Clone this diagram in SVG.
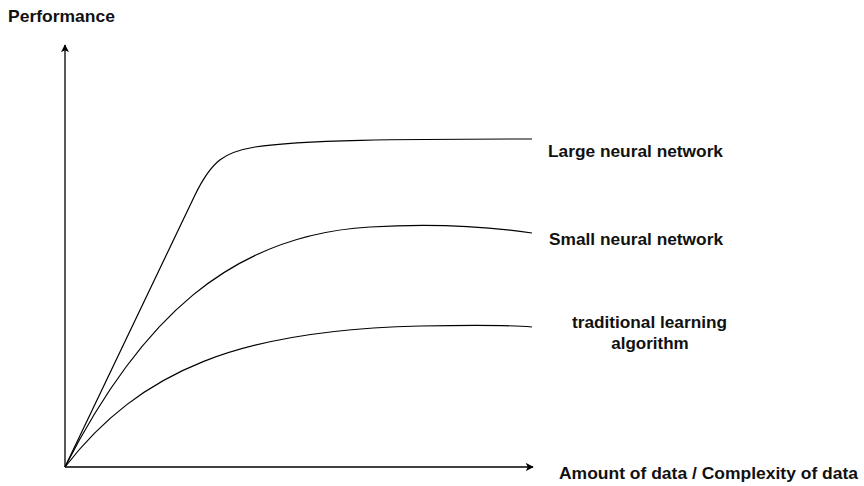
<svg xmlns="http://www.w3.org/2000/svg" width="864" height="486" viewBox="0 0 864 486">
  <style>
    .axis { stroke: #000; stroke-width: 1.3; fill: none; }
    .curve { stroke: #000; stroke-width: 1.2; fill: none; }
    .lbl { font-family: "Liberation Sans", Arial, sans-serif; font-size: 17px; font-weight: bold; fill: #111; }
  </style>
  <defs>
    <marker id="arrow" viewBox="0 0 10 10" refX="9" refY="5" markerWidth="8" markerHeight="8" markerUnits="userSpaceOnUse" orient="auto">
      <path d="M0,0 L10,5 L0,10 L2.5,5 Z" fill="#000"/>
    </marker>
  </defs>
  <rect width="864" height="486" fill="#fff"/>

  <g id="axes">
    <line class="axis" x1="65" y1="467" x2="65" y2="45" marker-end="url(#arrow)"/>
    <line class="axis" x1="65" y1="467" x2="533" y2="467" marker-end="url(#arrow)"/>
  </g>

  <g id="connectors">
    <!-- large neural network -->
    <path class="curve" d="M65,467 L195,195 C212,160 225,152 255,147 C300,140 400,139 532,139"/>
    <!-- small neural network -->
    <path class="curve" d="M65,467 C140,320 230,235 370,227 C420,224 470,224 532,233"/>
    <!-- traditional learning algorithm -->
    <path class="curve" d="M65,467 C140,370 240,330 420,326 C470,325 510,325 532,327"/>
  </g>

  <g id="labels">
    <text class="lbl" x="8" y="22" textLength="107" lengthAdjust="spacingAndGlyphs">Performance</text>
    <text class="lbl" x="548" y="157" textLength="175" lengthAdjust="spacingAndGlyphs">Large neural network</text>
    <text class="lbl" x="549" y="245" textLength="174" lengthAdjust="spacingAndGlyphs">Small neural network</text>
    <text class="lbl" x="572" y="328" textLength="155" lengthAdjust="spacingAndGlyphs">traditional learning</text>
    <text class="lbl" x="650" y="349" text-anchor="middle">algorithm</text>
    <text class="lbl" x="559" y="479" textLength="299" lengthAdjust="spacingAndGlyphs">Amount of data / Complexity of data</text>
  </g>
</svg>
